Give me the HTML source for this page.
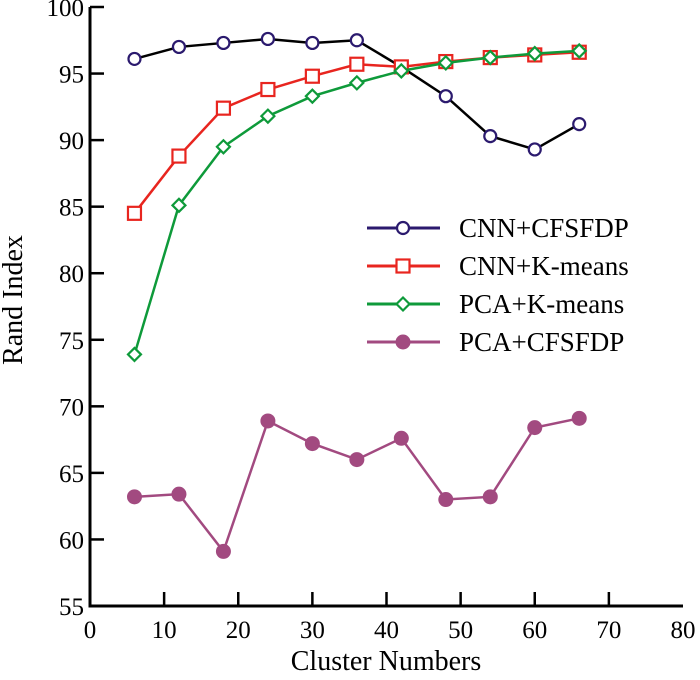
<!DOCTYPE html>
<html><head><meta charset="utf-8"><style>body{margin:0;background:#fff}svg{display:block;font-family:"Liberation Serif",serif}</style></head>
<body>
<svg id="chart" width="700" height="680" viewBox="0 0 700 680" xmlns="http://www.w3.org/2000/svg"></svg>
<script>
const xs = [6,12,18,24,30,36,42,48,54,60,66];
const cnnCfsfdp = [96.1,97.0,97.3,97.6,97.3,97.5,95.5,93.3,90.3,89.3,91.2];
const cnnKmeans = [84.5,88.8,92.4,93.8,94.8,95.7,95.5,95.9,96.2,96.4,96.6];
const pcaKmeans = [73.9,85.1,89.5,91.8,93.3,94.3,95.2,95.8,96.2,96.5,96.7];
const pcaCfsfdp = [63.2,63.4,59.1,68.9,67.2,66.0,67.6,63.0,63.2,68.4,69.1];
const xTicks = [0,10,20,30,40,50,60,70,80];
const yTicks = [55,60,65,70,75,80,85,90,95,100];
const X0=90,X1=683,Y0=606,Y1=7;
const sx=v=>X0+(v-0)/80*(X1-X0);
const sy=v=>Y0-(v-55)/45*(Y0-Y1);
const svg=document.getElementById('chart');
const NS='http://www.w3.org/2000/svg';
function mk(t,a,p){const e=document.createElementNS(NS,t);for(const k in a)e.setAttribute(k,a[k]);(p||svg).appendChild(e);return e;}
const axes=mk('g',{});


mk('path',{d:`M${X0},${Y1}V${Y0}H${X1}`,fill:'none',stroke:'#000','stroke-width':3},axes);
xTicks.forEach(t=>{const x=sx(t);
 if(t>0&&t<80)mk('line',{x1:x,x2:x,y1:Y0,y2:Y0-14,stroke:'#000','stroke-width':2.5},axes);
 const tx=mk('text',{x:x,y:Y0+32,'text-anchor':'middle','font-size':25},axes);tx.textContent=t;
 
 });
yTicks.forEach(t=>{const y=sy(t);
 if(t>55)mk('line',{x1:X0,x2:X0+14,y1:y,y2:y,stroke:'#000','stroke-width':2.5},axes);
 const tx=mk('text',{x:X0-6,y:y+9,'text-anchor':'end','font-size':25},axes);tx.textContent=t;
 
 });
const xt=mk('text',{x:386,y:670,'text-anchor':'middle','font-size':28});xt.textContent='Cluster Numbers';


const yt=mk('text',{x:0,y:0,'text-anchor':'middle','font-size':28,transform:'translate(22,300) rotate(-90)'});yt.textContent='Rand Index';


function marker(g,type,x,y,col){
 if(type==='circle')mk('circle',{cx:x,cy:y,r:6,fill:'#fff',stroke:col,'stroke-width':2.2},g);
 else if(type==='square')mk('rect',{x:x-6.5,y:y-6.5,width:13,height:13,fill:'#fff',stroke:col,'stroke-width':2.2},g);
 else if(type==='diamond')mk('path',{d:`M${x},${y-6.5}L${x+6.5},${y}L${x},${y+6.5}L${x-6.5},${y}Z`,fill:'#fff',stroke:col,'stroke-width':2.2},g);
 else mk('circle',{cx:x,cy:y,r:7.5,fill:col},g);}
const series=[
 {name:'CNN+CFSFDP',vals:cnnCfsfdp,line:'#000',mc:'#2b1a6e',lc:'#2b1a6e',type:'circle'},
 {name:'CNN+K-means',vals:cnnKmeans,line:'#e8251f',mc:'#e8251f',lc:'#e8251f',type:'square'},
 {name:'PCA+K-means',vals:pcaKmeans,line:'#0e9a3a',mc:'#0e9a3a',lc:'#0e9a3a',type:'diamond'},
 {name:'PCA+CFSFDP',vals:pcaCfsfdp,line:'#a24a80',mc:'#a24a80',lc:'#a24a80',type:'filled'}];
series.forEach((s,i)=>{
 const g=mk('g',{});
 
 
 mk('polyline',{points:xs.map((x,j)=>sx(x)+','+sy(s.vals[j])).join(' '),fill:'none',stroke:s.line,'stroke-width':2.5},g);
 xs.forEach((x,j)=>marker(g,s.type,sx(x),sy(s.vals[j]),s.mc));
 const ly=228+i*38;
 const lg=mk('g',{});
 
 
 mk('line',{x1:367,x2:440,y1:ly,y2:ly,stroke:s.lc,'stroke-width':3},lg);
 marker(lg,s.type,403,ly,s.mc);
 const t=mk('text',{x:459,y:ly+9,'font-size':27},lg);t.textContent=s.name;
});
</script>
</body></html>
